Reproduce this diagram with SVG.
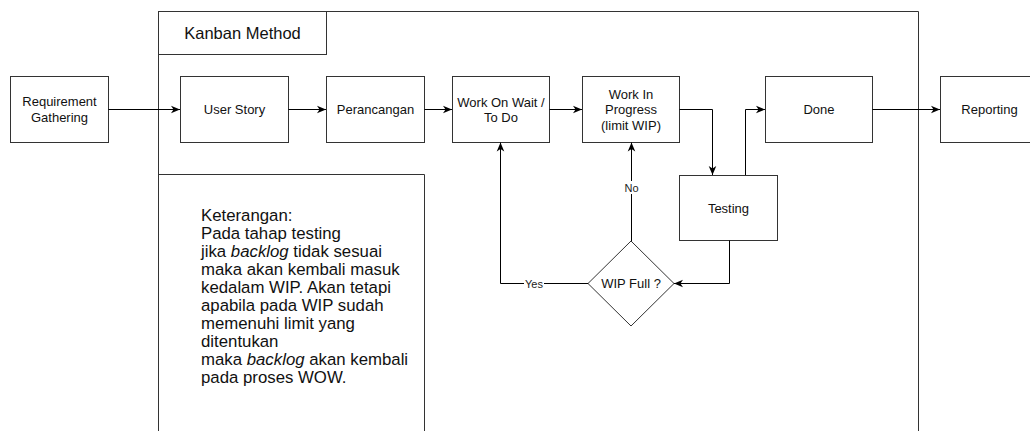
<svg xmlns="http://www.w3.org/2000/svg" width="1030" height="431" viewBox="0 0 1030 431">
<style>
.box{fill:#fff;stroke:#333;stroke-width:1}
.frame{fill:none;stroke:#333;stroke-width:1}
.lbl{font-family:"Liberation Sans",Arial,Helvetica,sans-serif;font-size:13px;fill:#111;text-anchor:middle}
.small{font-family:"Liberation Sans",Arial,Helvetica,sans-serif;font-size:11px;fill:#222;text-anchor:middle}
.note{font-family:"Liberation Sans",Arial,Helvetica,sans-serif;font-size:16.8px;fill:#111}
.title{font-family:"Liberation Sans",Arial,Helvetica,sans-serif;font-size:16.5px;fill:#111;text-anchor:middle}
.edge{fill:none;stroke:#000;stroke-width:1}
</style>
<defs>
<marker id="arr" viewBox="0 0 10 10" refX="10" refY="5" markerWidth="9" markerHeight="9" orient="auto" markerUnits="userSpaceOnUse">
<path d="M0,0.8 L10,5 L0,9.2 L2.8,5 z" fill="#000"/>
</marker>
</defs>
<rect width="1030" height="431" fill="#fff"/>

<g id="kanban-frame">
<path class="frame" d="M158.5,431 V11.5 H918.5 V431"/>
<rect class="box" x="158.5" y="11.5" width="168" height="43"/>
<text class="title" x="242.5" y="38.5">Kanban Method</text>
</g>

<g id="note">
<path class="frame" d="M158.5,431 V174.5 H424.5 V431"/>
<text class="note" x="201" y="221">Keterangan:</text>
<text class="note" x="201" y="239">Pada tahap testing</text>
<text class="note" x="201" y="257">jika <tspan font-style="italic">backlog</tspan> tidak sesuai</text>
<text class="note" x="201" y="275">maka akan kembali masuk</text>
<text class="note" x="201" y="293">kedalam WIP. Akan tetapi</text>
<text class="note" x="201" y="311">apabila pada WIP sudah</text>
<text class="note" x="201" y="329">memenuhi limit yang</text>
<text class="note" x="201" y="347">ditentukan</text>
<text class="note" x="201" y="365">maka <tspan font-style="italic">backlog</tspan> akan kembali</text>
<text class="note" x="201" y="383">pada proses WOW.</text>
</g>

<g id="requirement">
<rect class="box" x="10.5" y="76.5" width="98" height="66"/>
<text class="lbl" x="59.5" y="106">Requirement</text>
<text class="lbl" x="59.5" y="121.5">Gathering</text>
</g>

<g id="user-story">
<rect class="box" x="180.5" y="76.5" width="108" height="66"/>
<text class="lbl" x="234.5" y="114">User Story</text>
</g>

<g id="perancangan">
<rect class="box" x="326.5" y="76.5" width="98" height="66"/>
<text class="lbl" x="375.5" y="114">Perancangan</text>
</g>

<g id="wow">
<rect class="box" x="452.5" y="76.5" width="97" height="66"/>
<text class="lbl" x="501" y="106.5">Work On Wait /</text>
<text class="lbl" x="501" y="122">To Do</text>
</g>

<g id="wip">
<rect class="box" x="582.5" y="76.5" width="97" height="66"/>
<text class="lbl" x="631" y="98.5">Work In</text>
<text class="lbl" x="631" y="114">Progress</text>
<text class="lbl" x="631" y="129.5">(limit WIP)</text>
</g>

<g id="done">
<rect class="box" x="765.5" y="76.5" width="107" height="66"/>
<text class="lbl" x="819" y="114">Done</text>
</g>

<g id="reporting">
<rect class="box" x="940.5" y="76.5" width="99" height="66"/>
<text class="lbl" x="989.5" y="114">Reporting</text>
</g>

<g id="testing">
<rect class="box" x="679.5" y="175.5" width="98" height="65"/>
<text class="lbl" x="728.5" y="212.5">Testing</text>
</g>

<g id="wip-full">
<path class="box" d="M631,241 L674,283.5 L631,326 L588,283.5 z"/>
<text class="lbl" x="631" y="288">WIP Full ?</text>
</g>

<g id="connectors">
<path class="edge" d="M108.5,109.5 H180" marker-end="url(#arr)"/>
<path class="edge" d="M288.5,109.5 H326" marker-end="url(#arr)"/>
<path class="edge" d="M424.5,109.5 H452" marker-end="url(#arr)"/>
<path class="edge" d="M549.5,109.5 H582" marker-end="url(#arr)"/>
<path class="edge" d="M679.5,109.5 H712.5 V175" marker-end="url(#arr)"/>
<path class="edge" d="M745.5,175 V109.5 H765" marker-end="url(#arr)"/>
<path class="edge" d="M872.5,109.5 H940" marker-end="url(#arr)"/>
<path class="edge" d="M729.5,240.5 V283.5 H674" marker-end="url(#arr)"/>
<path class="edge" d="M631.5,241 V142.5" marker-end="url(#arr)"/>
<path class="edge" d="M588,283.5 H500.5 V142.5" marker-end="url(#arr)"/>
<rect x="623" y="181" width="17" height="13" fill="#fff"/>
<text class="small" x="631.5" y="191.5">No</text>
<rect x="524" y="277" width="20" height="13" fill="#fff"/>
<text class="small" x="534" y="287.5">Yes</text>
</g>
</svg>
